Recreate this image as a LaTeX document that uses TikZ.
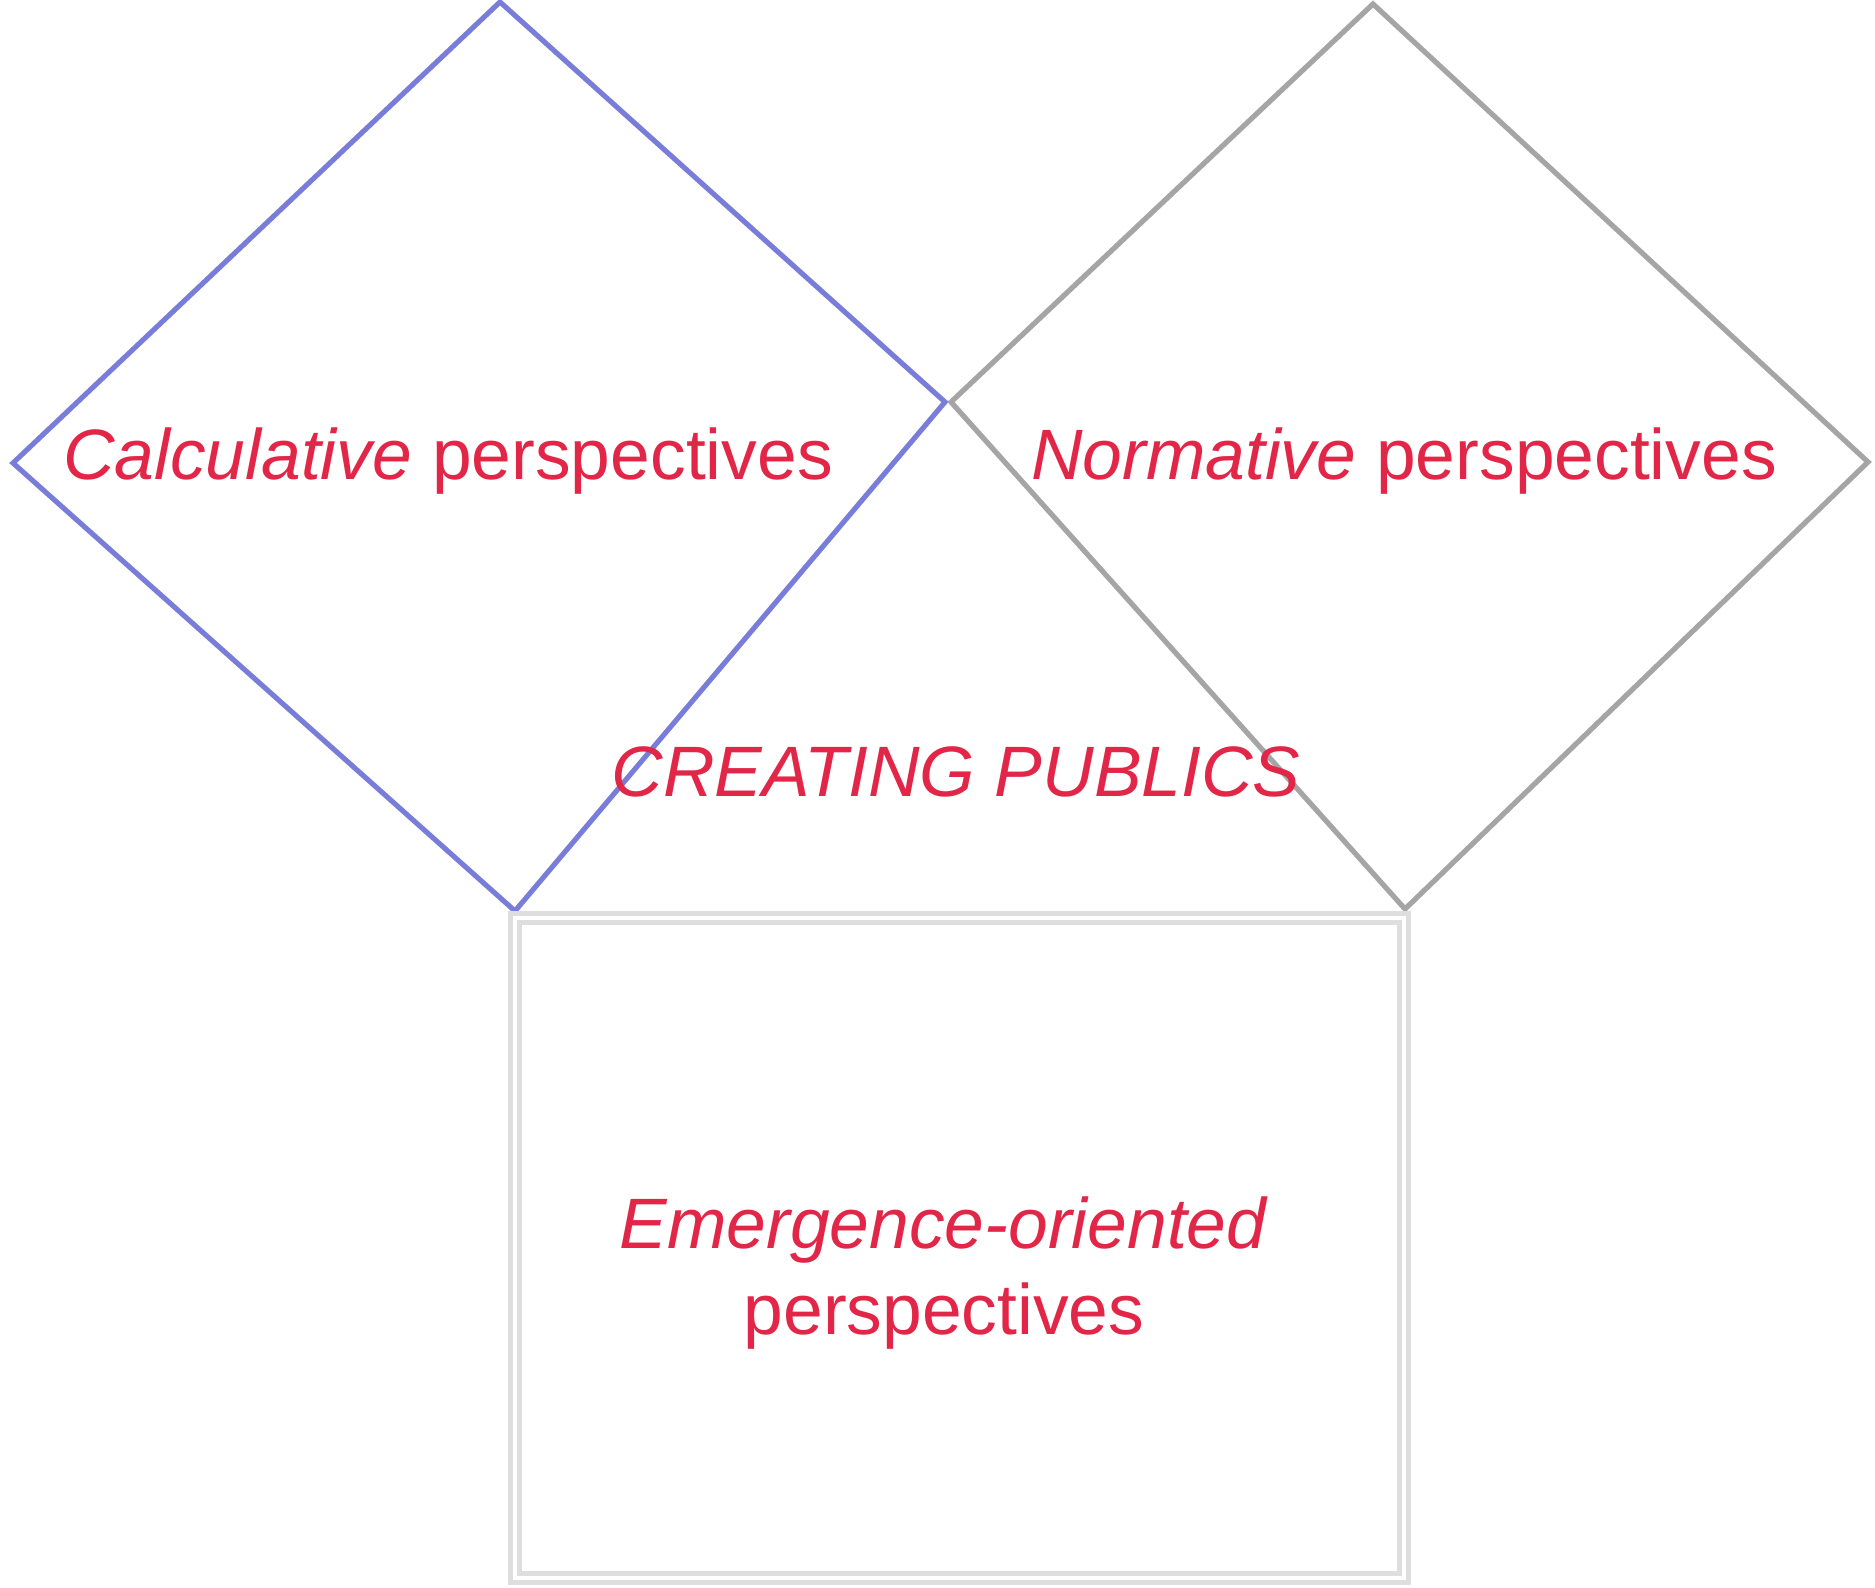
\documentclass[tikz,border=0pt]{standalone}
\usepackage{fontspec}
\setmainfont{Liberation Sans}
\definecolor{calcblue}{RGB}{120,125,220}
\definecolor{normgray}{RGB}{165,165,165}
\definecolor{boxgray}{RGB}{222,222,222}
\definecolor{pubred}{RGB}{226,38,72}
\tikzset{
  persp/.style={text=pubred,font=\fontsize{20.3}{24}\selectfont,align=center},
  shade line/.style={line width=1.5pt,line join=miter,opacity=0.2,black,shift={(0.03,-0.04)}}
}
\begin{document}
\begin{tikzpicture}[x=0.01cm,y=-0.01cm]
  \useasboundingbox (0,0) rectangle (1875,1587);
  % corners of the two diamonds and the box
  \coordinate (ct) at (500,2);
  \coordinate (cl) at (13,463);
  \coordinate (cr) at (945,402);
  \coordinate (cb) at (515,911);
  \coordinate (nt) at (1373,4);
  \coordinate (nl) at (951,402);
  \coordinate (nr) at (1868,462);
  \coordinate (nb) at (1405,909);
  \pgfmathsetmacro{\bl}{515}
  \pgfmathsetmacro{\br}{1404}
  \pgfmathsetmacro{\bt}{918}
  \pgfmathsetmacro{\bb}{1578}
  \draw[shade line] (ct)--(cr)--(cb)--(cl)--cycle;
  \draw[shade line] (nt)--(nr)--(nb)--(nl)--cycle;
  \draw[calcblue,line width=1.4pt,line join=miter] (ct)--(cr)--(cb)--(cl)--cycle;
  \draw[normgray,line width=1.4pt,line join=miter] (nt)--(nr)--(nb)--(nl)--cycle;
  \draw[boxgray,line width=1.6pt,double=white,double distance=1pt] (\bl,\bt) rectangle (\br,\bb);
  \node[persp] (calc) at (448,461) {\textit{Calculative} perspectives};
  \node[persp] (norm) at (1404,461) {\textit{Normative} perspectives};
  \node[persp] (pub) at (956,772) {\textit{CREATING PUBLICS}};
  \node[persp,font=\fontsize{20.3}{24.5}\selectfont] (emer) at (944,1273) {\textit{Emergence-oriented}\\perspectives};
\end{tikzpicture}
\end{document}
